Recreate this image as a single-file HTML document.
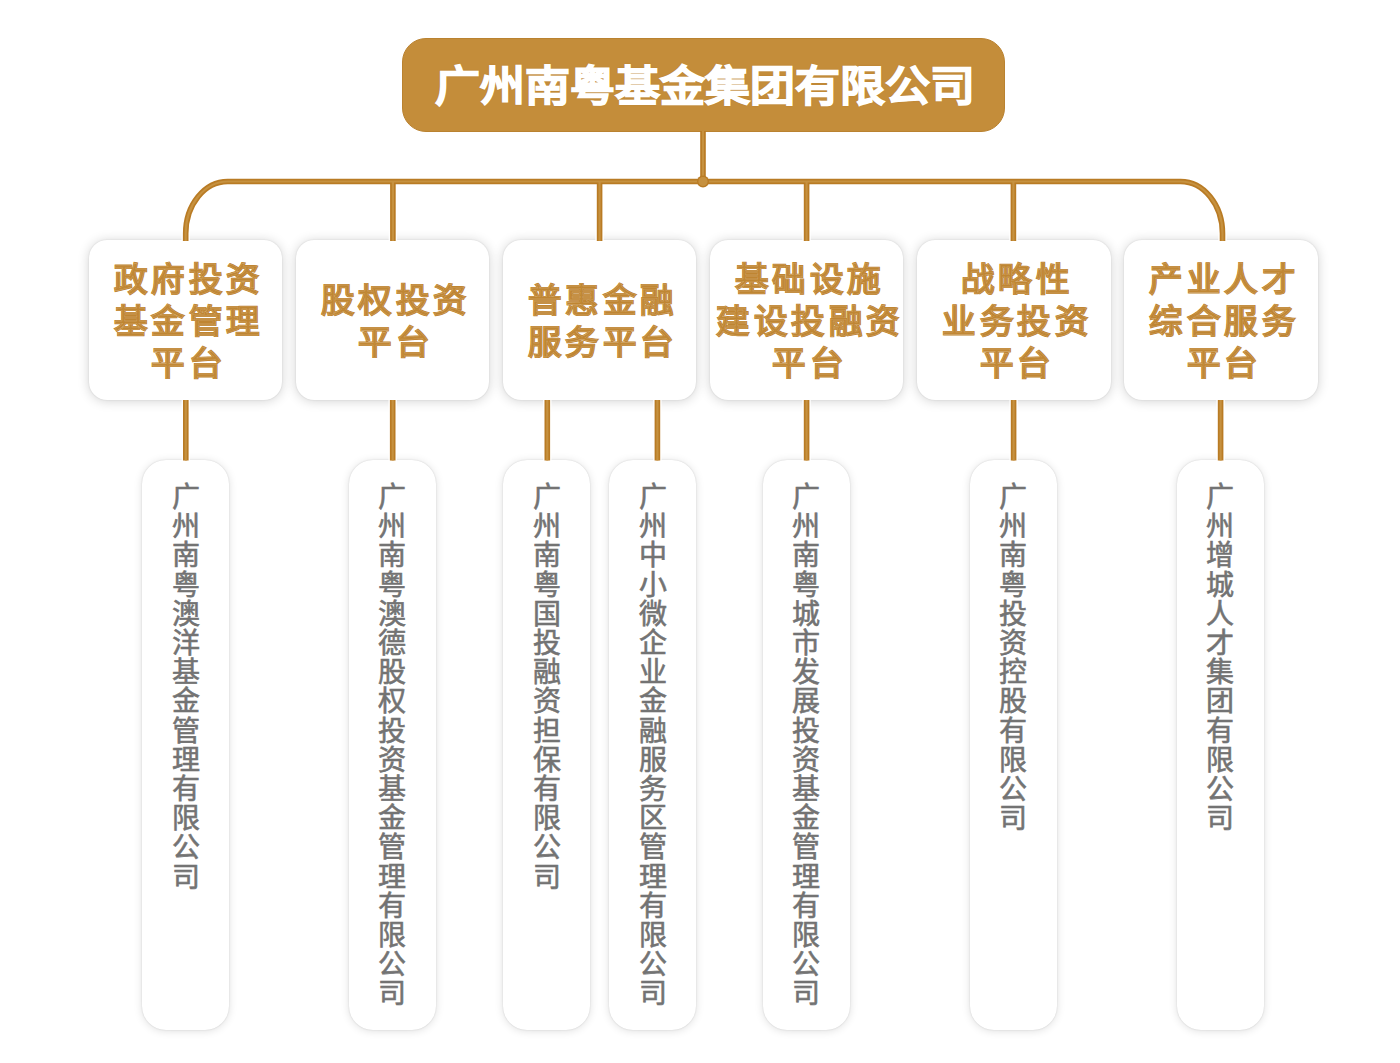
<!DOCTYPE html>
<html lang="zh-CN"><head><meta charset="utf-8"><style>
html,body{margin:0;padding:0;}
body{width:1400px;height:1063px;background:#fff;position:relative;overflow:hidden;font-family:"Liberation Sans",sans-serif;}
.title{position:absolute;left:401.5px;top:37.5px;width:603px;height:94.5px;border-radius:24px;background:#C48D3A;box-sizing:border-box;border:1px solid #BA8230;}
.title .t{position:absolute;left:32.5px;top:2px;height:92px;white-space:nowrap;font-size:0;}
.title i{font-style:normal;display:inline-block;width:45px;text-align:center;line-height:92px;color:#fff;font-size:42px;font-weight:700;-webkit-text-stroke:1.2px #fff;text-shadow:0 0 1.2px rgba(150,90,20,0.9);transform:scaleX(1.07);}
.card{position:absolute;top:240px;height:160px;width:193.6px;border-radius:18px;background:#fff;box-shadow:0 0 1.5px rgba(0,0,0,0.15),0 1px 12px rgba(0,0,0,0.18);display:flex;align-items:center;justify-content:center;}
.card .w{position:relative;top:1.5px;}
.card .a,.card .b{font-size:33.5px;font-weight:700;line-height:42px;text-align:center;letter-spacing:4.5px;padding-left:6.5px;white-space:nowrap;}
.card .a{color:#C48D3A;-webkit-text-stroke:0.9px #BF8532;}
.card .b{position:absolute;left:0;top:0;right:0;font-weight:400;color:transparent;-webkit-text-stroke:0.3px rgba(255,255,255,0.38);}
.box{position:absolute;top:460px;height:570px;width:87px;border-radius:24px;background:#fff;box-shadow:0 0 1.5px rgba(0,0,0,0.16),0 1px 8px rgba(0,0,0,0.13);}
.box div{position:absolute;left:0;right:0;top:23px;color:#737373;font-size:28px;font-weight:400;line-height:29.2px;text-align:center;-webkit-text-stroke:0.6px #737373;}
svg{position:absolute;left:0;top:0;z-index:5;}
</style></head><body>
<svg width="1400" height="1063" viewBox="0 0 1400 1063">
<path d="M185.7,222 L185.7,241 M392.9,222 L392.9,241 M599.6,222 L599.6,241 M806.6,222 L806.6,241 M1013.4,222 L1013.4,241 M1222.5,222 L1222.5,241 M185.8,400 L185.8,412 M185.8,448 L185.8,460.5 M392.7,400 L392.7,412 M392.7,448 L392.7,460.5 M547.3,400 L547.3,412 M547.3,448 L547.3,460.5 M657.4,400 L657.4,412 M657.4,448 L657.4,460.5 M806.6,400 L806.6,412 M806.6,448 L806.6,460.5 M1013.6,400 L1013.6,412 M1013.6,448 L1013.6,460.5 M1220.6,400 L1220.6,412 M1220.6,448 L1220.6,460.5" fill="none" stroke="#fff" stroke-width="8.5" stroke-opacity="0.85"/>
<path d="M185.7,241 L185.7,233.5 A42,52 0 0 1 227.7,181.5 L1180.5,181.5 A42,52 0 0 1 1222.5,233.5 L1222.5,241 M703,131 L703,181.5 M392.9,181.5 L392.9,241 M599.6,181.5 L599.6,241 M806.6,181.5 L806.6,241 M1013.4,181.5 L1013.4,241 M185.8,400 L185.8,460.5 M392.7,400 L392.7,460.5 M547.3,400 L547.3,460.5 M657.4,400 L657.4,460.5 M806.6,400 L806.6,460.5 M1013.6,400 L1013.6,460.5 M1220.6,400 L1220.6,460.5" fill="none" stroke="#B97B24" stroke-width="5.6"/>
<path d="M185.7,241 L185.7,233.5 A42,52 0 0 1 227.7,181.5 L1180.5,181.5 A42,52 0 0 1 1222.5,233.5 L1222.5,241 M703,131 L703,181.5 M392.9,181.5 L392.9,241 M599.6,181.5 L599.6,241 M806.6,181.5 L806.6,241 M1013.4,181.5 L1013.4,241 M185.8,400 L185.8,460.5 M392.7,400 L392.7,460.5 M547.3,400 L547.3,460.5 M657.4,400 L657.4,460.5 M806.6,400 L806.6,460.5 M1013.6,400 L1013.6,460.5 M1220.6,400 L1220.6,460.5" fill="none" stroke="#C6913F" stroke-width="2.2"/>
<circle cx="703" cy="181.5" r="6" fill="#B97B24"/><circle cx="703" cy="181.5" r="4.6" fill="#C6913F"/>
</svg>
<div class="title"><div class="t"><i>广</i><i>州</i><i>南</i><i>粤</i><i>基</i><i>金</i><i>集</i><i>团</i><i>有</i><i>限</i><i>公</i><i>司</i></div></div>
<div class="card" style="left:88.5px"><div class="w"><div class="a">政府投资<br>基金管理<br>平台</div><div class="b">政府投资<br>基金管理<br>平台</div></div></div>
<div class="card" style="left:295.6px"><div class="w"><div class="a">股权投资<br>平台</div><div class="b">股权投资<br>平台</div></div></div>
<div class="card" style="left:502.8px"><div class="w"><div class="a">普惠金融<br>服务平台</div><div class="b">普惠金融<br>服务平台</div></div></div>
<div class="card" style="left:709.9px"><div class="w"><div class="a">基础设施<br>建设投融资<br>平台</div><div class="b">基础设施<br>建设投融资<br>平台</div></div></div>
<div class="card" style="left:917.1px"><div class="w"><div class="a">战略性<br>业务投资<br>平台</div><div class="b">战略性<br>业务投资<br>平台</div></div></div>
<div class="card" style="left:1124.2px"><div class="w"><div class="a">产业人才<br>综合服务<br>平台</div><div class="b">产业人才<br>综合服务<br>平台</div></div></div>
<div class="box" style="left:142.1px"><div>广<br>州<br>南<br>粤<br>澳<br>洋<br>基<br>金<br>管<br>理<br>有<br>限<br>公<br>司</div></div>
<div class="box" style="left:348.9px"><div>广<br>州<br>南<br>粤<br>澳<br>德<br>股<br>权<br>投<br>资<br>基<br>金<br>管<br>理<br>有<br>限<br>公<br>司</div></div>
<div class="box" style="left:503.4px"><div>广<br>州<br>南<br>粤<br>国<br>投<br>融<br>资<br>担<br>保<br>有<br>限<br>公<br>司</div></div>
<div class="box" style="left:609.0px"><div>广<br>州<br>中<br>小<br>微<br>企<br>业<br>金<br>融<br>服<br>务<br>区<br>管<br>理<br>有<br>限<br>公<br>司</div></div>
<div class="box" style="left:762.7px"><div>广<br>州<br>南<br>粤<br>城<br>市<br>发<br>展<br>投<br>资<br>基<br>金<br>管<br>理<br>有<br>限<br>公<br>司</div></div>
<div class="box" style="left:969.7px"><div>广<br>州<br>南<br>粤<br>投<br>资<br>控<br>股<br>有<br>限<br>公<br>司</div></div>
<div class="box" style="left:1176.9px"><div>广<br>州<br>增<br>城<br>人<br>才<br>集<br>团<br>有<br>限<br>公<br>司</div></div>
</body></html>
